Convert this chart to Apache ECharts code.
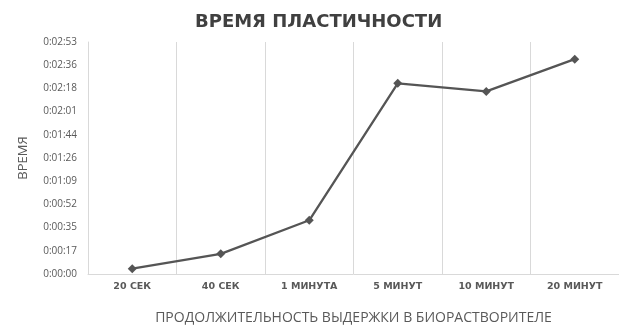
<!DOCTYPE html>
<html><head><meta charset="utf-8">
<script src="https://cdn.jsdelivr.net/npm/echarts@6/dist/echarts.min.js"></script>
<style>html,body{margin:0;padding:0;background:#fff}#c{width:619px;height:327px}</style>
</head><body><div id="c"></div>
<script>
const categories = ['20 СЕК', '40 СЕК', '1 МИНУТА', '5 МИНУТ', '10 МИНУТ', '20 МИНУТ'];
const seconds = [4, 15, 40, 142, 136, 160];
const tickStepSeconds = 17.28;
const yMaxSeconds = 172.8;

function fmt(v) {
  const s = Math.round(v);
  const h = Math.floor(s / 3600);
  const m = Math.floor((s % 3600) / 60);
  const ss = s % 60;
  return h + ':' + String(m).padStart(2, '0') + ':' + String(ss).padStart(2, '0');
}

const chart = echarts.init(document.getElementById('c'));
chart.setOption({
  animation: false,
  title: {
    text: 'ВРЕМЯ ПЛАСТИЧНОСТИ',
    left: 190, top: 8,
    textStyle: { fontFamily: 'DejaVu Sans', fontWeight: 'bold', fontSize: 18, color: '#404040' }
  },
  grid: { left: 88, right: 0, top: 42, bottom: 53, outerBoundsMode: 'none' },
  xAxis: {
    type: 'category', data: categories, boundaryGap: true,
    axisLine: { lineStyle: { color: '#d9d9d9', width: 1 } },
    axisTick: { show: false },
    splitLine: { show: true, lineStyle: { color: '#d9d9d9', width: 1 } },
    axisLabel: { fontFamily: 'DejaVu Sans', fontWeight: 'bold', fontSize: 9.5, color: '#595959', margin: 8, interval: 0 },
    name: 'ПРОДОЛЖИТЕЛЬНОСТЬ ВЫДЕРЖКИ В БИОРАСТВОРИТЕЛЕ',
    nameLocation: 'middle', nameGap: 37,
    nameTextStyle: { fontFamily: 'Open Sans', fontSize: 14, color: '#595959' }
  },
  yAxis: {
    type: 'value', min: 0, max: yMaxSeconds, interval: tickStepSeconds,
    axisLine: { show: true, lineStyle: { color: '#d9d9d9' } },
    axisTick: { show: false },
    splitLine: { show: false },
    axisLabel: { formatter: fmt, fontFamily: 'Open Sans', fontSize: 10, color: '#595959', margin: 11 },
    name: 'ВРЕМЯ', nameLocation: 'middle', nameGap: 58, nameRotate: 90,
    nameTextStyle: { fontFamily: 'Open Sans', fontSize: 13, color: '#595959' }
  },
  series: [{
    type: 'line', data: seconds,
    symbol: 'diamond', symbolSize: 9,
    lineStyle: { color: '#555555', width: 2.3 },
    itemStyle: { color: '#555555' }
  }]
});
</script></body></html>
